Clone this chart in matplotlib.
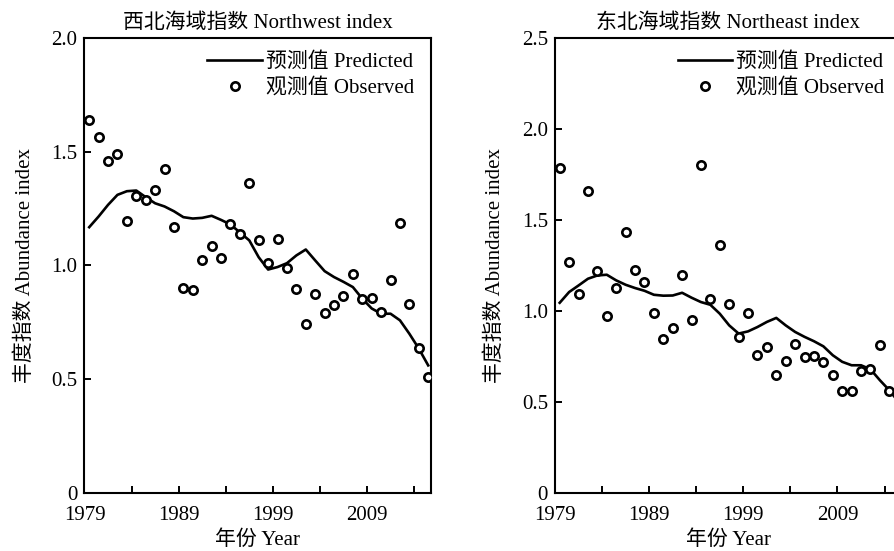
import numpy as np
import matplotlib
matplotlib.use("Agg")
import matplotlib.pyplot as plt
from matplotlib.ticker import MultipleLocator, FixedLocator

plt.rcParams['font.family'] = ['Liberation Serif', 'Noto Sans CJK SC']
plt.rcParams['font.size'] = 15

years = np.arange(1979, 2016)

# Northwest index
nw_observed = [1.640, 1.563, 1.459, 1.488, 1.194, 1.303, 1.288, 1.333, 1.424, 1.171,
               0.900, 0.893, 1.022, 1.085, 1.031, 1.180, 1.139, 1.364, 1.113, 1.010,
               1.118, 0.990, 0.898, 0.743, 0.873, 0.791, 0.826, 0.864, 0.962, 0.851,
               0.855, 0.797, 0.934, 1.186, 0.830, 0.636, 0.510]
nw_predicted = [1.168, 1.215, 1.266, 1.310, 1.326, 1.329, 1.300, 1.273, 1.259, 1.238,
                1.212, 1.206, 1.209, 1.218, 1.200, 1.180, 1.145, 1.110, 1.036, 0.982,
                0.993, 1.010, 1.044, 1.070, 1.022, 0.975, 0.949, 0.928, 0.905, 0.854,
                0.811, 0.788, 0.788, 0.759, 0.700, 0.635, 0.561]

# Northeast index
ne_observed = [1.783, 1.271, 1.095, 1.657, 1.222, 0.970, 1.124, 1.432, 1.224, 1.157,
               0.987, 0.845, 0.907, 1.197, 0.951, 1.799, 1.066, 1.363, 1.039, 0.858,
               0.991, 0.761, 0.803, 0.651, 0.724, 0.819, 0.746, 0.752, 0.719, 0.646,
               0.560, 0.562, 0.673, 0.680, 0.816, 0.562, 0.608]
ne_predicted = [1.045, 1.104, 1.140, 1.177, 1.195, 1.199, 1.168, 1.144, 1.126, 1.111,
                1.089, 1.084, 1.085, 1.100, 1.073, 1.049, 1.034, 0.985, 0.921, 0.876,
                0.888, 0.912, 0.940, 0.962, 0.921, 0.885, 0.858, 0.834, 0.806, 0.757,
                0.721, 0.702, 0.702, 0.680, 0.620, 0.565, 0.500]

panels = [
    ("西北海域指数 Northwest index", nw_observed, nw_predicted, 2.0, 0.0944),
    ("东北海域指数 Northeast index", ne_observed, ne_predicted, 2.5, 0.6201),
]

fig = plt.figure(figsize=(8.95, 5.51), dpi=100)

for title, obs, pred, ymax, left in panels:
    ax = fig.add_axes([left, 0.105, 0.3872, 0.8265])
    # values plotted at mid-year
    x = years + 0.5
    ax.plot(x, pred, color='black', lw=1.9, label='预测值 Predicted', zorder=2)
    ax.plot(x, obs, 'o', mfc='white', mec='black', mew=1.9, ms=6,
            linestyle='none', label='观测值 Observed', zorder=3)

    ax.set_xlim(1979, 2015.8)
    ax.set_ylim(0, ymax)
    ax.xaxis.set_major_locator(FixedLocator([1979, 1989, 1999, 2009]))
    ax.xaxis.set_minor_locator(FixedLocator([1984, 1994, 2004, 2014]))
    ax.yaxis.set_major_locator(MultipleLocator(0.5))
    ax.yaxis.set_major_formatter(plt.FuncFormatter(lambda v, p: '0' if v == 0 else f'{v:.1f}'))
    ax.tick_params(which='both', direction='in', length=5, width=1.4,
                   top=False, right=False, labelsize=15, pad=5)
    ax.tick_params(axis='x', which='both', pad=9)
    for s in ax.spines.values():
        s.set_linewidth(1.5)

    ax.set_title(title, fontsize=15, pad=7)
    ax.set_xlabel('年份 Year', fontsize=15, labelpad=4)
    ax.set_ylabel('丰度指数 Abundance index', fontsize=15, labelpad=12)
    ax.legend(loc='upper right', frameon=False, fontsize=15, handlelength=2.6,
              handletextpad=0.2, labelspacing=0.3, borderaxespad=0.3,
              bbox_to_anchor=(0.993, 1.0))

fig.savefig('out.png', dpi=100)
